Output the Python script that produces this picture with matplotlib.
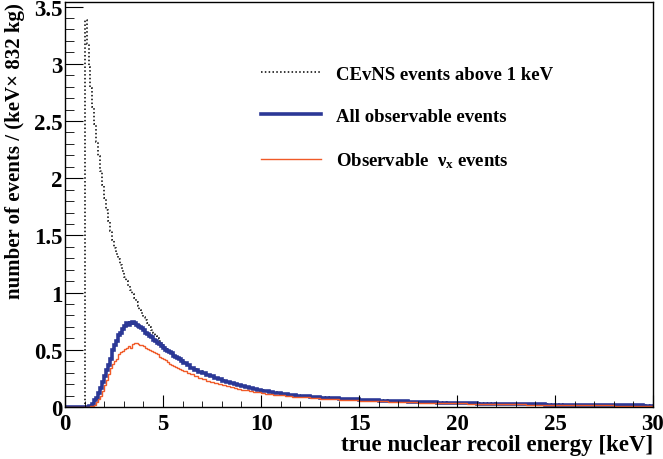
import numpy as np
import matplotlib
matplotlib.use("Agg")
import matplotlib.pyplot as plt
from matplotlib.ticker import MultipleLocator

# bin edges [keV]: 0.1 keV up to 6, 0.2 keV up to 12, 0.5 keV up to 30
edges = np.concatenate([np.linspace(0, 6, 61)[:-1],
                        np.linspace(6, 12, 31)[:-1],
                        np.linspace(12, 30, 37)])

below_1kev = [0.0] * 10

# CEvNS events above 1 keV (dotted)
cevns_fine = [3.38, 3.17, 2.97, 2.79, 2.62, 2.47, 2.32, 2.19, 2.06, 1.94,
              1.83, 1.72, 1.63, 1.54, 1.46, 1.39, 1.34, 1.29, 1.24, 1.19,
              1.14, 1.10, 1.06, 1.02, 0.99, 0.95, 0.92, 0.88, 0.85, 0.82,
              0.79, 0.76, 0.73, 0.70, 0.67, 0.65, 0.62, 0.60, 0.58, 0.56,
              0.54, 0.52, 0.51, 0.49, 0.48, 0.46, 0.45, 0.44, 0.42, 0.41]
cevns_mid = [0.392, 0.370, 0.350, 0.330, 0.314, 0.298, 0.283, 0.269, 0.256, 0.244,
             0.232, 0.221, 0.210, 0.200, 0.191, 0.182, 0.174, 0.166, 0.159, 0.152,
             0.146, 0.140, 0.134, 0.128, 0.123, 0.118, 0.113, 0.109, 0.105, 0.101]
cevns_tail = [0.097, 0.091, 0.085, 0.079, 0.074, 0.069, 0.065, 0.061, 0.057, 0.054,
              0.051, 0.048, 0.045, 0.043, 0.040, 0.038, 0.036, 0.034, 0.032, 0.031,
              0.029, 0.028, 0.026, 0.025, 0.024, 0.023, 0.022, 0.021, 0.020, 0.019,
              0.018, 0.018, 0.017, 0.016, 0.016, 0.015]

# all observable events (thick blue)
obs_fine = [0.0, 0.0, 0.005, 0.01, 0.03, 0.06, 0.08, 0.12, 0.17, 0.22,
            0.27, 0.32, 0.37, 0.42, 0.50, 0.54, 0.58, 0.63, 0.65, 0.68,
            0.71, 0.73, 0.72, 0.73, 0.74, 0.73, 0.72, 0.71, 0.70, 0.69,
            0.67, 0.65, 0.64, 0.62, 0.61, 0.59, 0.58, 0.56, 0.55, 0.53,
            0.52, 0.50, 0.49, 0.48, 0.47, 0.45, 0.44, 0.43, 0.42, 0.40]
obs_mid = [0.385, 0.365, 0.345, 0.325, 0.310, 0.295, 0.280, 0.267, 0.254, 0.242,
           0.230, 0.219, 0.208, 0.198, 0.189, 0.180, 0.172, 0.164, 0.157, 0.150,
           0.144, 0.138, 0.132, 0.126, 0.121, 0.116, 0.111, 0.107, 0.103, 0.099]
obs_tail = [0.095, 0.089, 0.083, 0.077, 0.072, 0.067, 0.063, 0.059, 0.055, 0.052,
            0.049, 0.046, 0.043, 0.041, 0.038, 0.036, 0.034, 0.032, 0.030, 0.029,
            0.027, 0.026, 0.024, 0.023, 0.022, 0.021, 0.020, 0.019, 0.018, 0.017,
            0.016, 0.016, 0.015, 0.014, 0.014, 0.013]

# observable nu_x events (thin orange)
nux_fine = [0.0, 0.0, 0.0, 0.005, 0.01, 0.02, 0.04, 0.07, 0.10, 0.14,
            0.19, 0.24, 0.29, 0.34, 0.38, 0.40, 0.42, 0.46, 0.48, 0.49,
            0.51, 0.52, 0.53, 0.52, 0.55, 0.56, 0.56, 0.55, 0.54, 0.54,
            0.53, 0.52, 0.51, 0.50, 0.49, 0.48, 0.47, 0.46, 0.44, 0.43,
            0.42, 0.41, 0.39, 0.38, 0.37, 0.36, 0.35, 0.34, 0.33, 0.32]
nux_mid = [0.315, 0.300, 0.285, 0.268, 0.255, 0.243, 0.231, 0.220, 0.209, 0.199,
           0.190, 0.181, 0.173, 0.165, 0.158, 0.151, 0.145, 0.139, 0.133, 0.128,
           0.123, 0.118, 0.113, 0.109, 0.105, 0.101, 0.097, 0.094, 0.090, 0.087]
nux_tail = [0.084, 0.079, 0.074, 0.069, 0.064, 0.060, 0.056, 0.053, 0.049, 0.046,
            0.044, 0.041, 0.039, 0.037, 0.035, 0.033, 0.031, 0.029, 0.027, 0.026,
            0.024, 0.023, 0.022, 0.021, 0.020, 0.019, 0.018, 0.017, 0.016, 0.015,
            0.015, 0.014, 0.013, 0.013, 0.012, 0.012]

cevns = np.array(below_1kev + cevns_fine + cevns_mid + cevns_tail)
observable = np.array(below_1kev + obs_fine + obs_mid + obs_tail)
nux = np.array(below_1kev + nux_fine + nux_mid + nux_tail)

plt.rcParams['font.family'] = ['Liberation Serif', 'DejaVu Serif']
plt.rcParams['font.weight'] = 'bold'
plt.rcParams['axes.labelweight'] = 'bold'
plt.rcParams['mathtext.default'] = 'regular'
fs = 13.5

fig = plt.figure(figsize=(6.63, 4.60), dpi=100)
ax = fig.add_axes([65 / 663, 52 / 460, 588 / 663, 405 / 460])

ax.stairs(cevns, edges, color='black', lw=1.1, ls=(0, (1, 1.5)),
          label='CEvNS events above 1 keV')
ax.stairs(observable, edges, color='#2b3896', lw=2.6,
          label='All observable events')
ax.stairs(nux, edges, color='#f05a28', lw=1.0,
          label=r'Observable  ν$_{x}$ events')

ax.set_xlim(0, 30)
ax.set_ylim(0, 3.54)
ax.xaxis.set_major_locator(MultipleLocator(5))
ax.xaxis.set_minor_locator(MultipleLocator(1))
ax.yaxis.set_major_locator(MultipleLocator(0.5))
ax.yaxis.set_minor_locator(MultipleLocator(0.1))
ax.tick_params(axis='both', which='both', direction='in', top=False, right=False,
               labelsize=16.5)
ax.tick_params(axis='x', which='major', length=8.6, pad=4)
ax.tick_params(axis='x', which='minor', length=4.3)
ax.tick_params(axis='y', which='major', length=13, pad=2)
ax.tick_params(axis='y', which='minor', length=6.5)
ax.yaxis.set_major_formatter(plt.FuncFormatter(lambda v, p: f"{v:g}"))
for s in ax.spines.values():
    s.set_linewidth(1.0)

ax.set_xlabel('true nuclear recoil energy [keV]', fontsize=16.5, loc='right')
ax.xaxis.set_label_coords(1.0, -0.066)
ax.set_ylabel('number of events / (keV× 832 kg)', fontsize=15, loc='top')
ax.yaxis.set_label_coords(-0.068, 1.0)

leg = ax.legend(loc='upper left', bbox_to_anchor=(0.305, 0.885), frameon=False,
                fontsize=fs, handlelength=3.2, handletextpad=0.8,
                labelspacing=1.35)

fig.savefig('out.png', dpi=100)
